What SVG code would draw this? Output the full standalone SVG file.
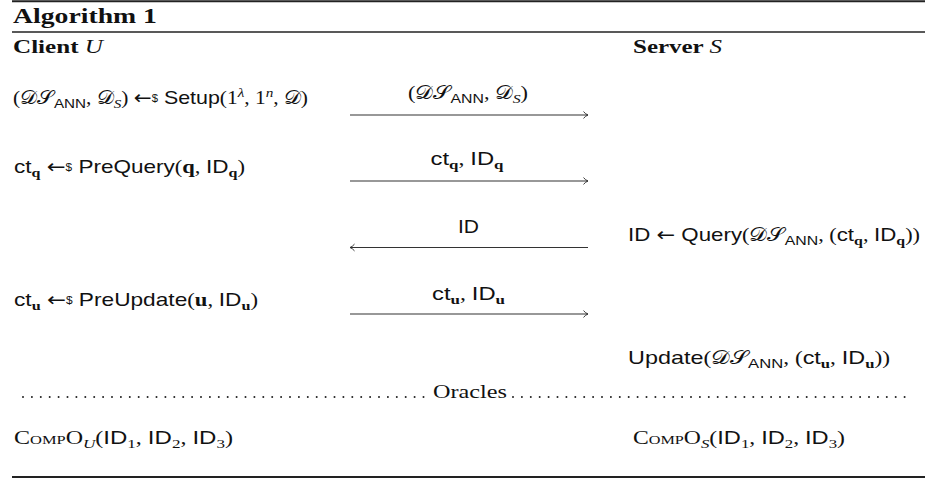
<svg xmlns="http://www.w3.org/2000/svg" width="925" height="489" viewBox="0 0 925 489">
  <style>
    text { font-family: "Liberation Sans", "DejaVu Sans", sans-serif; font-size: 19px; fill: #111; }
    .rm { font-family: "Liberation Serif", "DejaVu Serif", serif; }
    .mi { font-family: "Liberation Serif", "DejaVu Serif", serif; font-style: italic; }
    .bf { font-family: "Liberation Serif", "DejaVu Serif", serif; font-weight: bold; }
    .cal { font-family: "DejaVu Serif", "DejaVu Sans", serif; font-style: normal; }
    .ar { font-family: "DejaVu Sans", sans-serif; }
    .head { font-family: "Liberation Serif", "DejaVu Serif", serif; font-weight: bold; font-size: 19px; }
    .title { font-size: 20px; }
    .sub { font-size: 13.5px; }
    .tiny { font-size: 10px; }
    .sc { font-family: "Liberation Serif", "DejaVu Serif", serif; font-variant: small-caps; }
    .rule { stroke: #222; fill: none; }
    .msg { stroke: #333; stroke-width: 1.1; fill: none; marker-end: url(#ah); }
    .dots { stroke: #222; stroke-width: 2; stroke-linecap: round; stroke-dasharray: 0 8.9; fill: none; }
  </style>
  <defs>
    <marker id="ah" viewBox="0 0 10 10" refX="7" refY="5" markerWidth="10" markerHeight="10" orient="auto" markerUnits="userSpaceOnUse">
      <path d="M2.5,1.6 Q4.6,4.2 7,5 Q4.6,5.8 2.5,8.4" fill="none" stroke="#333" stroke-width="1"/>
    </marker>
  </defs>

  <rect width="925" height="489" fill="#fff"/>

  <!-- frame rules -->
  <g id="frame">
    <line class="rule" x1="12" y1="1.2" x2="925" y2="1.2" stroke-width="2"/>
    <line class="rule" x1="12" y1="32" x2="925" y2="32" stroke-width="1.4"/>
    <line class="rule" x1="12" y1="477" x2="925" y2="477" stroke-width="2"/>
  </g>

  <g id="title">
    <text class="head title" x="13" y="23" textLength="144" lengthAdjust="spacingAndGlyphs">Algorithm 1</text>
  </g>

  <g id="client-header">
    <text class="head" x="13" y="53" textLength="90" lengthAdjust="spacingAndGlyphs">Client <tspan class="mi" font-weight="normal">U</tspan></text>
  </g>
  <g id="server-header">
    <text class="head" x="633" y="53" textLength="89" lengthAdjust="spacingAndGlyphs">Server <tspan class="mi" font-weight="normal">S</tspan></text>
  </g>

  <!-- client side steps -->
  <g id="client-setup">
    <text x="13" y="104" textLength="295" lengthAdjust="spacingAndGlyphs"><tspan class="rm">(</tspan><tspan class="cal">𝒟𝒮</tspan><tspan class="sub" dy="4">ANN</tspan><tspan class="rm" dy="-4">, </tspan><tspan class="cal">𝒟</tspan><tspan class="sub mi" dy="4">S</tspan><tspan class="rm" dy="-4">) </tspan><tspan class="ar">←</tspan><tspan class="tiny" dy="-2">$</tspan><tspan dy="2"> Setup</tspan><tspan class="rm">(1</tspan><tspan class="sub mi" dy="-7">λ</tspan><tspan class="rm" dy="7">, 1</tspan><tspan class="sub mi" dy="-7">n</tspan><tspan class="rm" dy="7">, </tspan><tspan class="cal">𝒟</tspan><tspan class="rm">)</tspan></text>
  </g>
  <g id="client-prequery">
    <text x="14" y="173" textLength="231" lengthAdjust="spacingAndGlyphs">ct<tspan class="sub bf" dy="4">q</tspan><tspan dy="-4"> </tspan><tspan class="ar">←</tspan><tspan class="tiny" dy="-2">$</tspan><tspan dy="2"> PreQuery</tspan><tspan class="rm">(</tspan><tspan class="bf">q</tspan><tspan class="rm">, </tspan>ID<tspan class="sub bf" dy="4">q</tspan><tspan class="rm" dy="-4">)</tspan></text>
  </g>
  <g id="client-preupdate">
    <text x="14" y="306" textLength="244" lengthAdjust="spacingAndGlyphs">ct<tspan class="sub bf" dy="4">u</tspan><tspan dy="-4"> </tspan><tspan class="ar">←</tspan><tspan class="tiny" dy="-2">$</tspan><tspan dy="2"> PreUpdate</tspan><tspan class="rm">(</tspan><tspan class="bf">u</tspan><tspan class="rm">, </tspan>ID<tspan class="sub bf" dy="4">u</tspan><tspan class="rm" dy="-4">)</tspan></text>
  </g>

  <!-- server side steps -->
  <g id="server-query">
    <text x="628" y="241" textLength="292" lengthAdjust="spacingAndGlyphs">ID <tspan class="ar">←</tspan> Query<tspan class="rm">(</tspan><tspan class="cal">𝒟𝒮</tspan><tspan class="sub" dy="4">ANN</tspan><tspan class="rm" dy="-4">, (</tspan>ct<tspan class="sub bf" dy="4">q</tspan><tspan class="rm" dy="-4">, </tspan>ID<tspan class="sub bf" dy="4">q</tspan><tspan class="rm" dy="-4">))</tspan></text>
  </g>
  <g id="server-update">
    <text x="628" y="364" textLength="262" lengthAdjust="spacingAndGlyphs">Update<tspan class="rm">(</tspan><tspan class="cal">𝒟𝒮</tspan><tspan class="sub" dy="4">ANN</tspan><tspan class="rm" dy="-4">, (</tspan>ct<tspan class="sub bf" dy="4">u</tspan><tspan class="rm" dy="-4">, </tspan>ID<tspan class="sub bf" dy="4">u</tspan><tspan class="rm" dy="-4">))</tspan></text>
  </g>

  <!-- oracles separator -->
  <g id="oracles">
    <line class="dots" x1="23" y1="397" x2="426" y2="397"/>
    <text class="rm" x="433" y="398" textLength="74" lengthAdjust="spacingAndGlyphs">Oracles</text>
    <line class="dots" x1="513" y1="397" x2="913" y2="397"/>
  </g>
  <g id="oracle-client">
    <text x="14" y="444" textLength="219" lengthAdjust="spacingAndGlyphs"><tspan class="sc">CompO</tspan><tspan class="sub mi" dy="4">U</tspan><tspan class="rm" dy="-4">(</tspan>ID<tspan class="sub rm" dy="4">1</tspan><tspan class="rm" dy="-4">, </tspan>ID<tspan class="sub rm" dy="4">2</tspan><tspan class="rm" dy="-4">, </tspan>ID<tspan class="sub rm" dy="4">3</tspan><tspan class="rm" dy="-4">)</tspan></text>
  </g>
  <g id="oracle-server">
    <text x="633" y="444" textLength="212" lengthAdjust="spacingAndGlyphs"><tspan class="sc">CompO</tspan><tspan class="sub mi" dy="4">S</tspan><tspan class="rm" dy="-4">(</tspan>ID<tspan class="sub rm" dy="4">1</tspan><tspan class="rm" dy="-4">, </tspan>ID<tspan class="sub rm" dy="4">2</tspan><tspan class="rm" dy="-4">, </tspan>ID<tspan class="sub rm" dy="4">3</tspan><tspan class="rm" dy="-4">)</tspan></text>
  </g>

  <!-- messages between client and server -->
  <g id="connectors">
    <line class="msg" x1="350" y1="115" x2="588" y2="115"/>
    <line class="msg" x1="350" y1="181" x2="588" y2="181"/>
    <line class="msg" x1="588" y1="247.5" x2="350" y2="247.5"/>
    <line class="msg" x1="350" y1="314" x2="588" y2="314"/>
  </g>
  <g id="connector-labels">
    <text x="468" y="99" text-anchor="middle" textLength="120" lengthAdjust="spacingAndGlyphs"><tspan class="rm">(</tspan><tspan class="cal">𝒟𝒮</tspan><tspan class="sub" dy="4">ANN</tspan><tspan class="rm" dy="-4">, </tspan><tspan class="cal">𝒟</tspan><tspan class="sub mi" dy="4">S</tspan><tspan class="rm" dy="-4">)</tspan></text>
    <text x="467" y="165" text-anchor="middle" textLength="73" lengthAdjust="spacingAndGlyphs">ct<tspan class="sub bf" dy="4">q</tspan><tspan class="rm" dy="-4">, </tspan>ID<tspan class="sub bf" dy="4">q</tspan></text>
    <text x="468.5" y="233" text-anchor="middle" textLength="21" lengthAdjust="spacingAndGlyphs">ID</text>
    <text x="468.5" y="300" text-anchor="middle" textLength="73" lengthAdjust="spacingAndGlyphs">ct<tspan class="sub bf" dy="4">u</tspan><tspan class="rm" dy="-4">, </tspan>ID<tspan class="sub bf" dy="4">u</tspan></text>
  </g>
</svg>
